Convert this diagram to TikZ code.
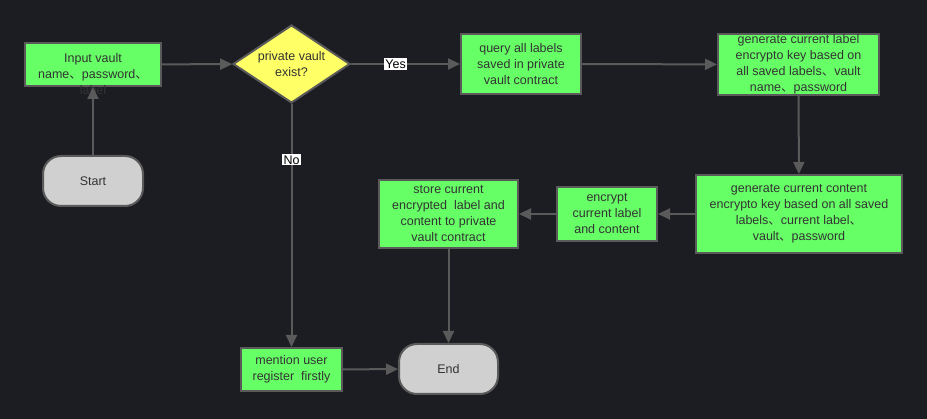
\documentclass[tikz,border=0pt]{standalone}
\usepackage{fontspec}
\setmainfont{Liberation Sans}
\newfontfamily\cjkfont{Noto Sans CJK SC}
\newcommand{\dn}{{\cjkfont 、}}
\usetikzlibrary{arrows.meta,shapes.geometric}
\definecolor{bgc}{HTML}{1B1D22}
\definecolor{grn}{HTML}{66FF66}
\definecolor{ylw}{HTML}{FFFF66}
\definecolor{term}{HTML}{D0D0D0}
\definecolor{edge}{HTML}{5A5A5A}
\definecolor{txt}{HTML}{333333}
\tikzset{
  base/.style={draw=edge, line width=2pt, text=txt, inner sep=0pt, align=center,
    font=\fontsize{12.5}{16}\selectfont},
  proc/.style={base, rectangle, fill=grn},
  term/.style={base, rectangle, rounded corners=18pt, fill=term, minimum width=100pt, minimum height=50pt},
  deci/.style={base, diamond, fill=ylw, aspect=1.5, minimum width=117pt, minimum height=78pt},
  conn/.style={draw=edge, line width=2pt, -{Triangle[length=12pt,width=11pt]}},
  lbl/.style={fill=white, text=black, inner sep=1.2pt, font=\fontsize{12.5}{14}\selectfont}
}
\begin{document}
\begin{tikzpicture}[x=1pt,y=-1pt]
\fill[bgc] (0,0) rectangle (927,419);
\useasboundingbox (0,0) rectangle (927,419);
% nodes
\node[proc, minimum width=136pt, minimum height=43pt] (input) at (93,64.5) {};
\node[text=txt, inner sep=0pt, align=center, font=\fontsize{12.5}{16}\selectfont] (inputtxt) at (93,74) {Input vault\\name\dn password\dn\\label};
\node[term] (start) at (93,181) {Start};
\node[deci] (dec) at (291.5,64) {private vault\\exist?};
\node[proc, minimum width=120pt, minimum height=60pt] (query) at (521,64) {query all labels\\saved in private\\vault contract};
\node[proc, minimum width=161pt, minimum height=61pt] (genlab) at (798.5,64.5) {generate current label\\encrypto key based on\\all saved labels\dn vault\\name\dn password};
\node[proc, minimum width=206pt, minimum height=78pt] (gencon) at (799,214) {generate current content\\encrypto key based on all saved\\labels\dn current label\dn\\vault\dn password};
\node[proc, minimum width=100pt, minimum height=54pt] (enc) at (607,214) {encrypt\\current label\\and content};
\node[proc, minimum width=139pt, minimum height=68pt] (store) at (448.5,214) {store current\\encrypted\ \ label and\\content to private\\vault contract};
\node[proc, minimum width=101pt, minimum height=43pt] (mention) at (291.5,369.5) {mention user\\register\ \ firstly};
\node[term, minimum width=99pt] (end) at (448.5,369) {End};
% connectors
\draw[conn] (start) -- (input);
\draw[conn] (input) -- (dec);
\draw[conn] (dec) -- node[lbl, pos=0.41] (yes) {Yes} (query);
\draw[conn] (query) -- (genlab);
\draw[conn] (genlab) -- (gencon);
\draw[conn] (gencon) -- (enc);
\draw[conn] (enc) -- (store);
\draw[conn] (store) -- (end);
\draw[conn] (dec) -- node[lbl, pos=0.23] (no) {No} (mention);
\draw[conn] (mention) -- (end);
\end{tikzpicture}
\end{document}
